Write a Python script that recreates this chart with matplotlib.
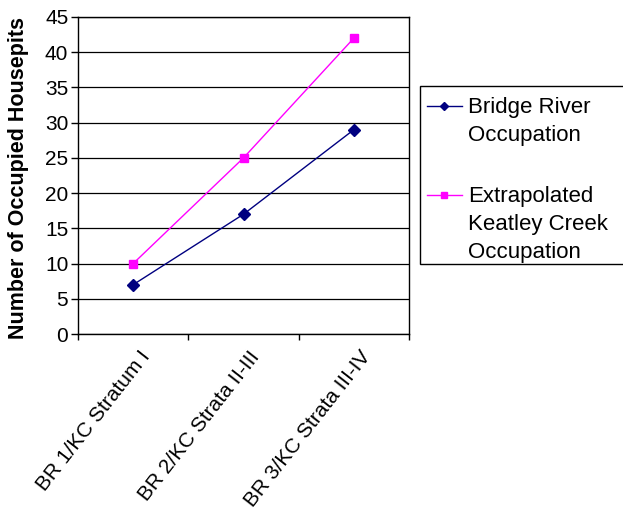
import matplotlib
matplotlib.use("Agg")
import matplotlib.pyplot as plt
from matplotlib.lines import Line2D
from matplotlib.patches import Rectangle

plt.rcParams["font.family"] = ["Liberation Sans", "DejaVu Sans"]

categories = ["BR 1/KC Stratum I", "BR 2/KC Strata II-III", "BR 3/KC Strata III-IV"]
bridge_river = [7, 17, 29]
keatley_creek = [10, 25, 42]
y_ticks = list(range(0, 46, 5))

series = [
    ("Bridge River\nOccupation", bridge_river, "#000080", "D", 6, 4.5),
    ("Extrapolated\nKeatley Creek\nOccupation", keatley_creek, "#FF00FF", "s", 6, 5),
]

W, H = 623, 523
fig = plt.figure(figsize=(W / 100, H / 100), dpi=100)
ax = fig.add_axes([78 / W, 1 - 334 / H, (409 - 78) / W, (334 - 17) / H])

x = list(range(len(categories)))
for label, vals, col, mk, ms, _ in series:
    ax.plot(x, vals, color=col, marker=mk, markersize=ms, linewidth=1, label=label)

ax.set_xlim(-0.5, 2.5)
ax.set_ylim(0, 45)
ax.set_yticks(y_ticks)
ax.tick_params(axis="y", labelsize=15, direction="out", length=5, width=1, pad=2)
ax.yaxis.grid(True, color="black", linewidth=0.9)
ax.set_axisbelow(True)

ax.set_xticks([-0.5, 0.5, 1.5, 2.5])
ax.set_xticklabels([])
ax.tick_params(axis="x", direction="out", length=4.5, width=1)
for i, lab in enumerate(categories):
    ax.text(i + 0.05, -1.9, lab, rotation=52, ha="right", va="top",
            fontsize=15, rotation_mode="anchor")

for s in ax.spines.values():
    s.set_linewidth(1)

fig.text(18.5 / W, 1 - 178 / H, "Number of Occupied Housepits", rotation=90,
         ha="center", va="center", fontsize=15.5, fontweight="bold")

# legend drawn by hand so the handle sits level with the first text line
fig.patches.append(Rectangle((420 / W, 1 - 264 / H), (W + 2 - 420) / W, (264 - 86) / H,
                             transform=fig.transFigure, facecolor="white",
                             edgecolor="black", linewidth=1))
first_baselines = [113, 202]
for (label, vals, col, mk, _, lms), base in zip(series, first_baselines):
    hy = 1 - (base - 7.5) / H
    fig.lines.append(Line2D([427 / W, 462 / W], [hy, hy], transform=fig.transFigure,
                            color=col, linewidth=1))
    fig.lines.append(Line2D([444 / W], [hy], transform=fig.transFigure, color=col,
                            marker=mk, markersize=lms, linestyle="none"))
    for k, line in enumerate(label.split("\n")):
        fig.text(468 / W, 1 - (base + 28 * k) / H, line, ha="left", va="baseline",
                 fontsize=16)

fig.savefig("out.png", dpi=100)
